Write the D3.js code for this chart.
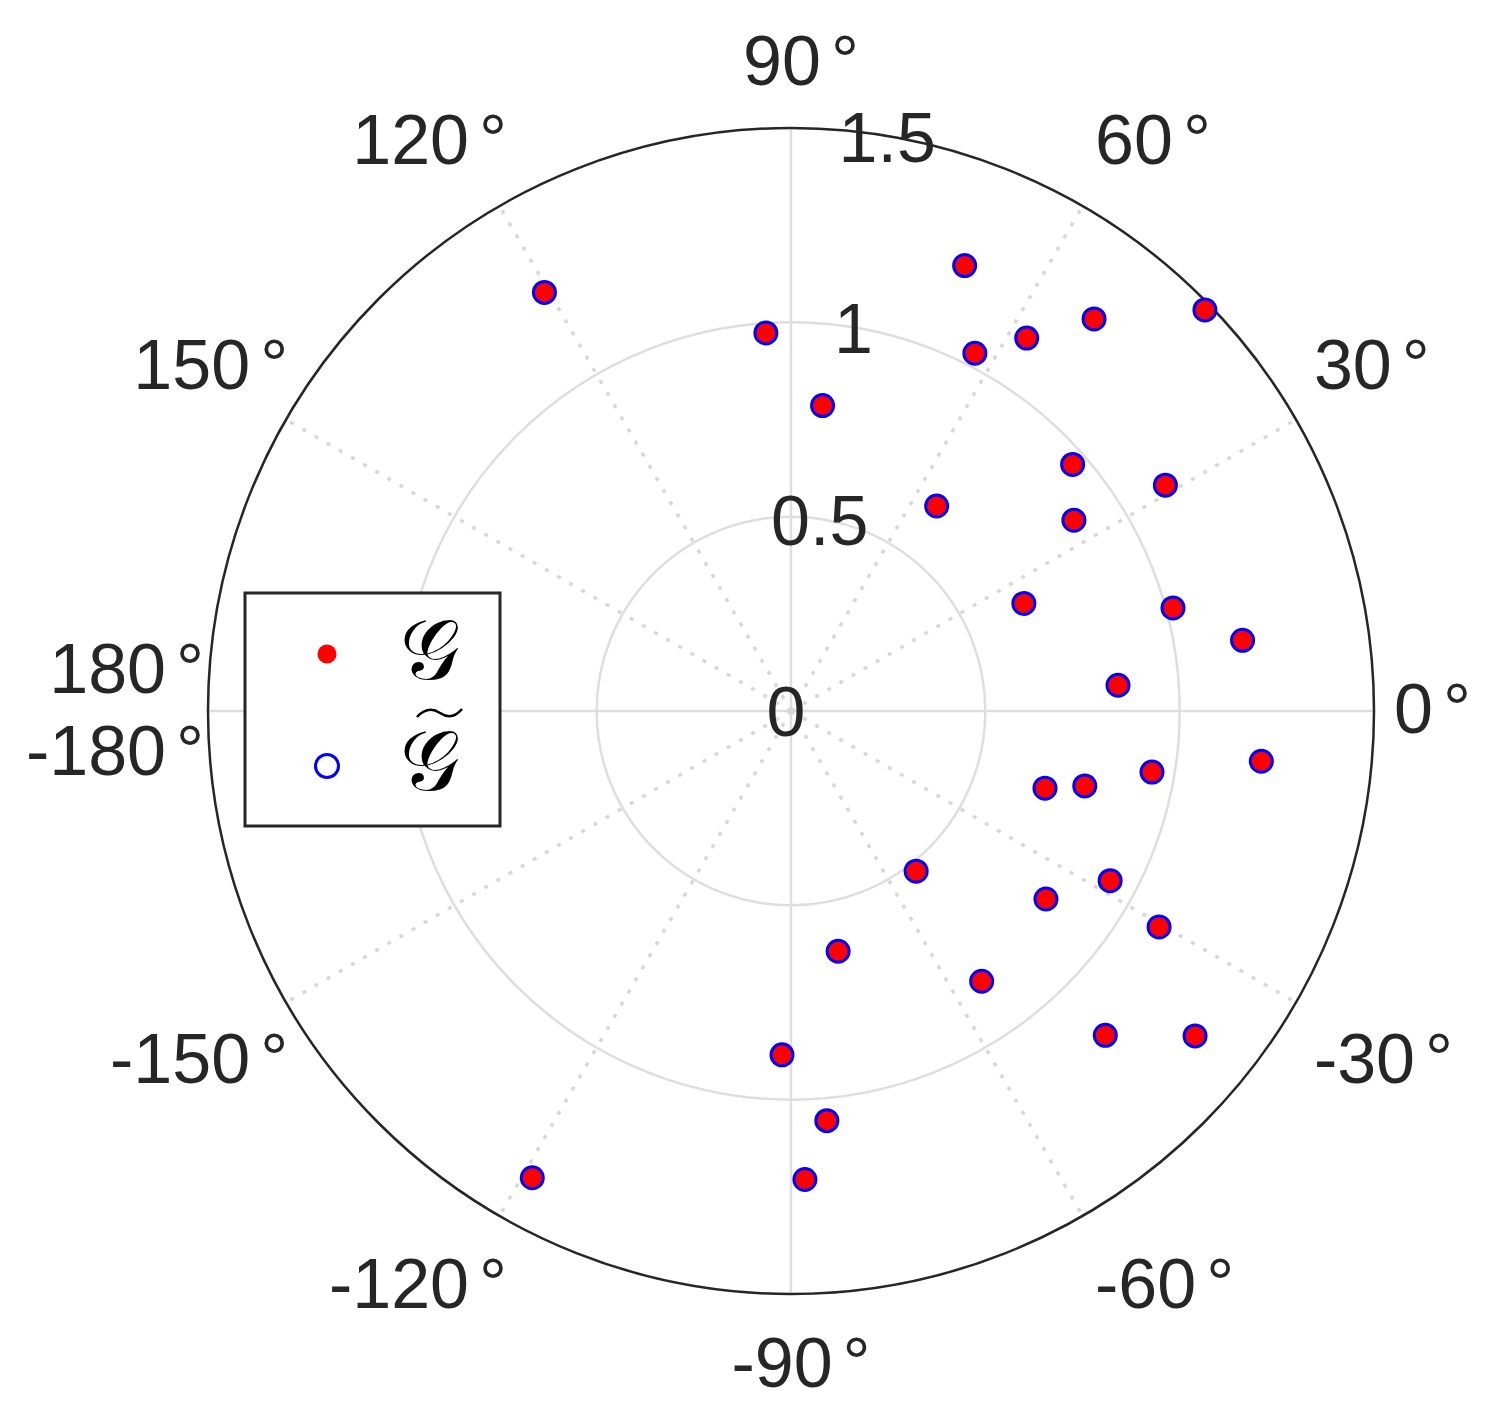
<!DOCTYPE html>
<html>
<head>
<meta charset="utf-8">
<script src="https://cdn.jsdelivr.net/npm/d3@7"></script>
<style>
  body { margin: 0; background: #fff; }
  svg { display: block; }
  .tick { font-family: "Liberation Sans", Arial, sans-serif; font-size: 70px; fill: #262626; }
</style>
</head>
<body>
<svg id="chart" width="1497" height="1419"></svg>
<script>
// theta in degrees, rho
const thetaG = [120.5, 93.8, 84.1, 68.7, 62.8, 57.7, 52.3, 44.1, 41.2, 31.1, 54.6, 34.0, 24.8, 15.1, 8.9, 4.5,
                -6.1, -9.6, -16.9, -14.3, -52.0, -28.0, -36.4, -30.4, -78.9, -54.8, -45.9, -38.8, -91.5, -85.0, -88.3, -119.0];
const rhoG   = [1.25, 0.975, 0.79, 1.23, 1.035, 1.135, 1.275, 1.483, 0.963, 1.125, 0.647, 0.878, 0.66, 1.018, 1.176, 0.844,
                1.217, 0.942, 0.683, 0.78, 0.523, 0.93, 0.815, 1.098, 0.63, 0.851, 1.162, 1.334, 0.885, 1.058, 1.206, 1.373];
// G tilde sits on top of G
const thetaGt = [120.5, 93.8, 84.1, 68.7, 62.8, 57.7, 52.3, 44.1, 41.2, 31.1, 54.6, 34.0, 24.8, 15.1, 8.9, 4.5,
                -6.1, -9.6, -16.9, -14.3, -52.0, -28.0, -36.4, -30.4, -78.9, -54.8, -45.9, -38.8, -91.5, -85.0, -88.3, -119.0];
const rhoGt   = [1.25, 0.975, 0.79, 1.23, 1.035, 1.135, 1.275, 1.483, 0.963, 1.125, 0.647, 0.878, 0.66, 1.018, 1.176, 0.844,
                1.217, 0.942, 0.683, 0.78, 0.523, 0.93, 0.815, 1.098, 0.63, 0.851, 1.162, 1.334, 0.885, 1.058, 1.206, 1.373];

const rTicks = [0, 0.5, 1, 1.5];
const rTickLabels = ["0", "0.5", "1", "1.5"];
const thetaTicks = [0, 30, 60, 90, 120, 150, -150, -120, -90, -60, -30];
const solidSpokes = [0, 90, 180, 270];
const dottedSpokes = [30, 60, 120, 150, 210, 240, 300, 330];

const cx = 791, cy = 711;
const svg = d3.select("#chart");
svg.append("rect").attr("width", 1497).attr("height", 1419).attr("fill", "#fff");

const r = d3.scaleLinear().domain([0, 1.5]).range([0, 583]);
const ang = d3.scaleLinear().domain([0, 360]).range([0, 2 * Math.PI]);

const g = svg.append("g").attr("transform", `translate(${cx},${cy})`);

function px(t, v) { return r(v) * Math.cos(ang(t)); }
function py(t, v) { return -r(v) * Math.sin(ang(t)); }

// grid circles
g.selectAll(".ring")
    .data(rTicks.filter(d => d > 0 && d < 1.5))
    .enter().append("circle")
    .attr("r", d => r(d))
    .attr("fill", "none")
    .attr("stroke", "#dedede")
    .attr("stroke-width", 2.5);

// spokes
g.selectAll(".spoke")
    .data(solidSpokes)
    .enter().append("line")
    .attr("x1", 0).attr("y1", 0)
    .attr("x2", d => px(d, 1.5)).attr("y2", d => py(d, 1.5))
    .attr("stroke", "#dedede")
    .attr("stroke-width", 2.5);

g.selectAll(".dspoke")
    .data(dottedSpokes)
    .enter().append("line")
    .attr("x1", 0).attr("y1", 0)
    .attr("x2", d => px(d, 1.5)).attr("y2", d => py(d, 1.5))
    .attr("stroke", "#d8d8d8")
    .attr("stroke-width", 3.5)
    .attr("stroke-dasharray", "4 10");

// outer circle
g.append("circle")
    .attr("r", r(1.5))
    .attr("fill", "none")
    .attr("stroke", "#262626")
    .attr("stroke-width", 2.5);

// radial tick labels at 80 deg
g.selectAll(".rlab")
    .data(rTicks)
    .enter().append("text")
    .attr("class", "tick")
    .attr("text-anchor", "middle")
    .attr("x", d => px(80, d) - 5)
    .attr("y", d => py(80, d) + 25)
    .text((d, i) => rTickLabels[i]);

// theta tick labels (placement tuned to match matlab's layout)
thetaTicks.forEach(t => {
    const txt = g.append("text").attr("class", "tick").attr("text-anchor", "middle");
    txt.append("tspan").text(String(t));
    txt.append("tspan").attr("dx", 10).text("°");
    const w = txt.node().getComputedTextLength();
    const a = ang(t), c = Math.cos(a), s = Math.sin(a);
    const sx = Math.abs(c) < 1e-6 ? 0 : Math.sign(c);
    const sy = Math.abs(s) < 1e-6 ? 0 : Math.sign(s);
    const B = 626 + 24 * c * c;
    const x = 10 + 598 * c + sx * w / 2;
    const y = -(B * s + sy * 25) + (sy === 0 ? -3 : 0);
    txt.attr("x", x).attr("y", y + 25);
});
["180", "-180"].forEach((s, i) => {
    const txt = svg.append("text").attr("class", "tick").attr("text-anchor", "end")
        .attr("x", 204).attr("y", i === 0 ? 693 : 775);
    txt.append("tspan").text(s);
    txt.append("tspan").attr("dx", 10).text("°");
});

// data points
g.selectAll(".ptG")
    .data(thetaG.map((t, i) => [t, rhoG[i]]))
    .enter().append("circle")
    .attr("cx", d => px(d[0], d[1]))
    .attr("cy", d => py(d[0], d[1]))
    .attr("r", 10.5)
    .attr("fill", "#ff0000");

g.selectAll(".ptGt")
    .data(thetaGt.map((t, i) => [t, rhoGt[i]]))
    .enter().append("circle")
    .attr("cx", d => px(d[0], d[1]))
    .attr("cy", d => py(d[0], d[1]))
    .attr("r", 11)
    .attr("fill", "none")
    .attr("stroke", "#0000ff")
    .attr("stroke-width", 3);

// legend
const leg = svg.append("g");
leg.append("rect")
    .attr("x", 245).attr("y", 593).attr("width", 255).attr("height", 233)
    .attr("fill", "#fff").attr("stroke", "#262626").attr("stroke-width", 3);
leg.append("circle").attr("cx", 327).attr("cy", 654).attr("r", 9.5).attr("fill", "#ff0000");
leg.append("circle").attr("cx", 327).attr("cy", 766).attr("r", 11.5)
    .attr("fill", "none").attr("stroke", "#0000ff").attr("stroke-width", 3);
leg.append("text")
    .attr("x", 430).attr("y", 679)
    .attr("text-anchor", "middle")
    .style("font-family", "'DejaVu Serif', serif")
    .style("font-size", "84px")
    .text("𝒢");
leg.append("text")
    .attr("x", 430).attr("y", 790)
    .attr("text-anchor", "middle")
    .style("font-family", "'DejaVu Serif', serif")
    .style("font-size", "84px")
    .text("𝒢");
leg.append("path")
    .attr("d", "M417,717 Q428,705 440,713 T462,709")
    .attr("fill", "none").attr("stroke", "#000").attr("stroke-width", 2.5);
</script>
</body>
</html>
